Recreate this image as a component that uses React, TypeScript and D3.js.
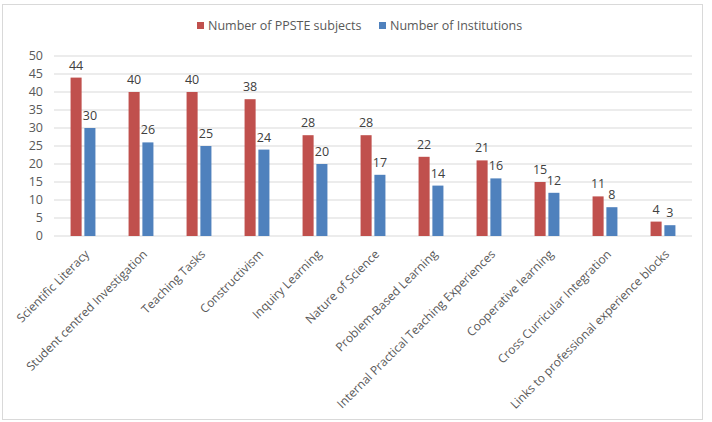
import * as d3 from "d3";

const categories = [
  "Scientific Literacy",
  "Student centred Investigation",
  "Teaching Tasks",
  "Constructivism",
  "Inquiry Learning",
  "Nature of Science",
  "Problem-Based Learning",
  "Internal Practical Teaching Experiences",
  "Cooperative learning",
  "Cross Curricular Integration",
  "Links to professional experience blocks",
];
const ppsteSubjects = [44, 40, 40, 38, 28, 28, 22, 21, 15, 11, 4];
const institutions = [30, 26, 25, 24, 20, 17, 14, 16, 12, 8, 3];
const yTicks = [0, 5, 10, 15, 20, 25, 30, 35, 40, 45, 50];

const series = [
  { name: "Number of PPSTE subjects", values: ppsteSubjects, color: "#c0504d" },
  { name: "Number of Institutions", values: institutions, color: "#4f81bd" },
];

const W = 712;
const H = 422;
const font = "'Open Sans', 'Liberation Sans', sans-serif";

export default function App() {
  const left = 54;
  const right = 692;
  const top = 56;
  const bottom = 236;

  const x = d3.scaleBand<string>().domain(categories).range([left, right]);
  const inner = d3
    .scaleBand<number>()
    .domain([0, 1])
    .range([0, x.bandwidth()])
    .paddingInner(0.2)
    .paddingOuter(1.2);
  const y = d3.scaleLinear().domain([0, 50]).range([bottom, top]);

  return (
    <svg
      width={W}
      height={H}
      style={{ position: "absolute", left: 0, top: 0, fontFamily: font }}
    >
      <rect x={0} y={0} width={W} height={H} fill="#fff" />
      <rect x={2.5} y={4.5} width={700} height={415} fill="#fff" stroke="#d9d9d9" />

      {/* legend */}
      {series.map((s, i) => {
        const lx = i === 0 ? 197 : 379;
        return (
          <g key={s.name}>
            <rect x={lx} y={22} width={7} height={7} fill={s.color} />
            <text x={lx + 11} y={29.5} fontSize={12.5} fill="#595959">
              {s.name}
            </text>
          </g>
        );
      })}

      {/* grid */}
      {yTicks.map((t) => (
        <g key={t}>
          <line x1={left} x2={right} y1={y(t)} y2={y(t)} stroke="#d9d9d9" />
          <text
            x={left - 11}
            y={y(t)}
            dy="0.35em"
            textAnchor="end"
            fontSize={12.5}
            fill="#595959"
          >
            {t}
          </text>
        </g>
      ))}

      {/* bars */}
      {categories.map((c, ci) => (
        <g key={c}>
          {series.map((s, si) => {
            const bx = (x(c) ?? 0) + (inner(si) ?? 0);
            const v = s.values[ci];
            return (
              <g key={s.name}>
                <rect
                  x={bx}
                  y={y(v)}
                  width={inner.bandwidth()}
                  height={bottom - y(v)}
                  fill={s.color}
                />
                <text
                  x={bx + inner.bandwidth() / 2}
                  y={y(v) - 8}
                  textAnchor="middle"
                  fontSize={12.5}
                  fill="#404040"
                >
                  {v}
                </text>
              </g>
            );
          })}
          <text
            transform={`translate(${(x(c) ?? 0) + x.bandwidth() / 2 + 7},${bottom + 19}) rotate(-45)`}
            textAnchor="end"
            fontSize={12}
            fill="#595959"
          >
            {c}
          </text>
        </g>
      ))}
    </svg>
  );
}
